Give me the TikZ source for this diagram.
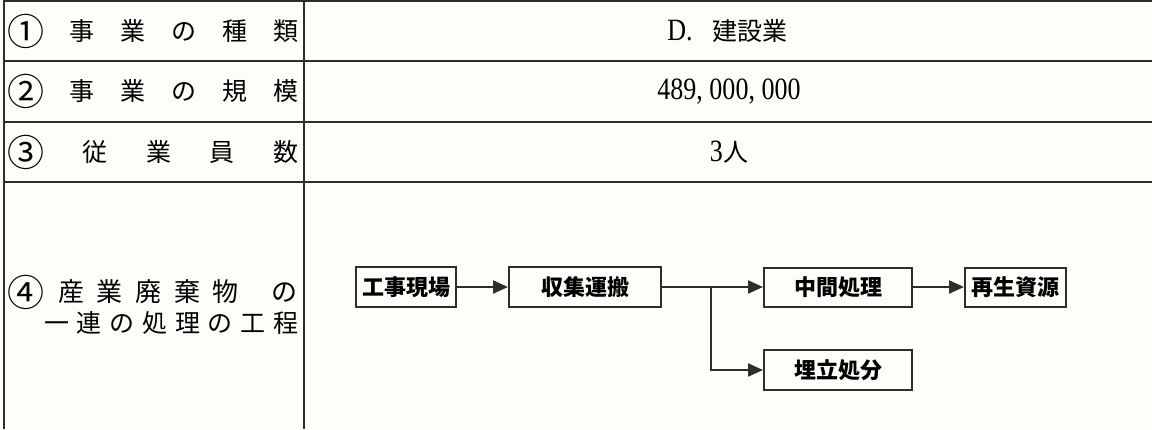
\documentclass[tikz,border=0pt]{standalone}
\usepackage{fontspec}
\usepackage{tikz}
\usetikzlibrary{arrows.meta}
\newfontfamily\jpfont{Noto Sans CJK JP}
\newfontfamily\numfont[FakeStretch=0.84]{Liberation Serif}
\definecolor{paper}{RGB}{253,253,250}
\definecolor{ink}{RGB}{45,45,45}
\tikzset{flow/.style = {-{Triangle[length=15pt, width=13pt]}}}
\tikzset{link/.style = {ink, line width = 2pt, flow}}
\tikzset{rule/.style = {draw = ink, line width = 2pt}}
\tikzset{stepbox/.style = {draw = ink, line width = 2pt, inner sep = 0,
                           font = \jpfont\bfseries\fontsize{22}{22}\selectfont}}
\tikzset{head/.style = {anchor = west, inner sep = 0, font = \jpfont\fontsize{25}{25}\selectfont}}
\tikzset{entry/.style = {inner sep = 0, font = \jpfont\fontsize{25}{25}\selectfont}}
\newcommand{\numtext}[1]{{\numfont\fontsize{31}{31}\selectfont #1}}
\newcommand{\circnum}[1]{\raisebox{-4.5pt}{\fontsize{37}{37}\selectfont #1}}

\begin{document}
\begin{tikzpicture}[x=1pt, y=-1pt]
      \path [fill = paper, use as bounding box] (0, 0) rectangle (1152, 429);

      % table rules
      \draw [rule] (4, 0) -- (4, 429);
      \draw [rule] (303.5, 0) -- (303.5, 429);
      \draw [rule] (4, 1) -- (1152, 1);
      \draw [rule] (4, 61) -- (1152, 61);
      \draw [rule] (4, 121.5) -- (1152, 121.5);
      \draw [rule] (4, 182) -- (1152, 182);

      % left column
      \node (kind) at (7, 31) [head] {\makebox[291pt][s]{\circnum{①}\hfill 事\hfill 業\hfill の\hfill 種\hfill 類}};
      \node (size) at (7, 91) [head] {\makebox[291pt][s]{\circnum{②}\hfill 事\hfill 業\hfill の\hfill 規\hfill 模}};
      \node (staff) at (7, 152) [head] {\makebox[291pt][s]{\circnum{③}\hfill 従\hfill 業\hfill 員\hfill 数}};
      \node (procA) at (7, 292) [head, font = \jpfont\fontsize{26}{26}\selectfont]
            {\makebox[290pt][s]{\circnum{④}\hspace{14pt}産\hspace{12pt}業\hspace{13pt}廃\hspace{13pt}棄\hspace{12pt}物\hfill の}};
      \node (procB) at (44, 323) [head] {\makebox[254pt][s]{一\hfill 連\hfill の\hfill 処\hfill 理\hfill の\hfill 工\hfill 程}};

      % right column
      \node (kindval) at (727.5, 31) [entry] {\numtext{D.}\hspace{20pt}建設業};
      \node (sizeval) at (729, 92) [entry] {\numtext{489, 000, 000}};
      \node (staffval) at (729, 152) [entry] {\numtext{3}人};

      % flow of the waste
      \node (site) at (406, 287) [stepbox, minimum width = 100pt, minimum height = 40pt] {工事現場};
      \node (haul) at (585, 287) [stepbox, minimum width = 152pt, minimum height = 40pt] {収集運搬};
      \node (mid) at (838, 287) [stepbox, minimum width = 148pt, minimum height = 39pt] {中間処理};
      \node (reuse) at (1015.5, 287) [stepbox, minimum width = 101pt, minimum height = 39pt] {再生資源};
      \node (landfill) at (838, 370) [stepbox, minimum width = 148pt, minimum height = 40pt] {埋立処分};
      \coordinate (fork) at (711, 287);

      \draw [link] (site) -- (haul);
      \draw [link] (haul) -- (mid);
      \draw [link] (mid) -- (reuse);
      \draw [link] (fork) |- (landfill.west);
    \end{tikzpicture}
\end{document}
